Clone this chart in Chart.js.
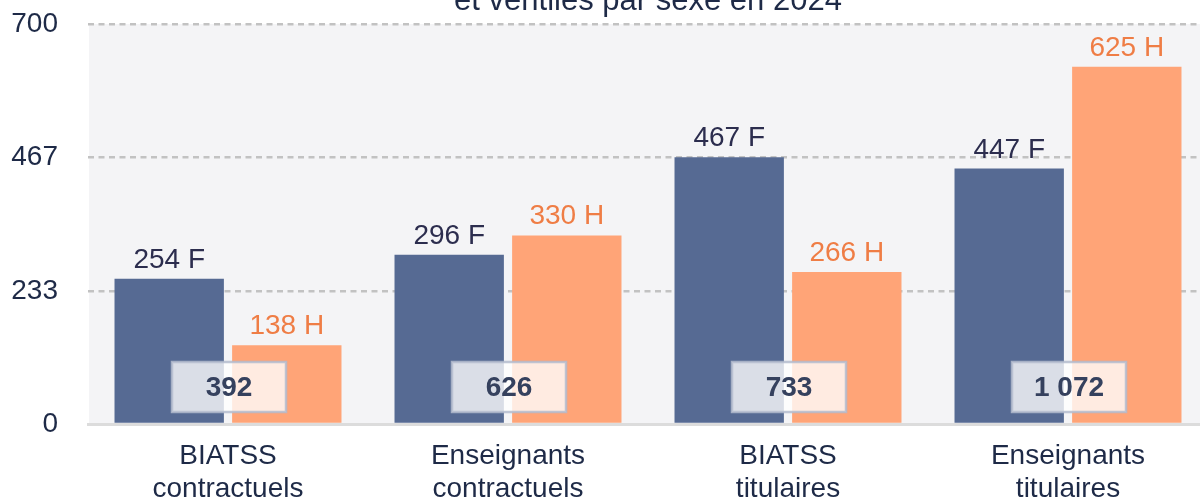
<!DOCTYPE html>
<html><head><meta charset="utf-8">
<script src="https://cdn.jsdelivr.net/npm/chart.js@4"></script>
<style>
html,body{margin:0;padding:0;overflow:hidden;background:#fff;width:1200px;height:500px}
#wrap{position:absolute;left:0;top:0;width:1208px;height:505px}
</style></head>
<body><div id="wrap"><canvas id="c" width="1208" height="505"></canvas></div>
<script>
const categories = [["BIATSS","contractuels"],["Enseignants","contractuels"],["BIATSS","titulaires"],["Enseignants","titulaires"]];
const femmes = [254, 296, 467, 447];
const hommes = [138, 330, 266, 625];
const yTicks = [0, 233, 467, 700];
const suffixes = ["F", "H"];
const titleText = "et ventilés par sexe en 2024";

const FONT = "'Liberation Sans', Arial, Helvetica, sans-serif";
const NAVY = "#1e2a47";
const barColors = ["#566a93", "#ffa477"];
const labelColors = ["#2c2d4e", "#ef7d45"];

function fmt(v){ return String(v).replace(/\B(?=(\d{3})+(?!\d))/g, " "); }

const bgPlugin = {
  id: "bg",
  beforeDraw(chart){
    const {ctx, chartArea:a} = chart;
    ctx.save();
    ctx.fillStyle = "#f4f4f6";
    ctx.fillRect(a.left + 1, a.top, a.right - a.left, a.bottom - a.top);
    // title (its first line lies above the visible frame)
    ctx.fillStyle = NAVY;
    ctx.font = "31px " + FONT;
    ctx.textAlign = "center";
    ctx.textBaseline = "alphabetic";
    ctx.fillText(titleText, (a.left + a.right) / 2, 10);
    ctx.restore();
  }
};

const labelPlugin = {
  id: "labels",
  afterDatasetsDraw(chart){
    const {ctx} = chart;
    ctx.save();
    ctx.font = "28px " + FONT;
    ctx.textAlign = "center";
    ctx.textBaseline = "alphabetic";
    chart.data.datasets.forEach((ds, di) => {
      const meta = chart.getDatasetMeta(di);
      ctx.fillStyle = labelColors[di];
      meta.data.forEach((bar, i) => {
        ctx.fillText(ds.data[i] + " " + suffixes[di], bar.x, bar.y - 11);
      });
    });
    const xs = chart.scales.x, ys = chart.scales.y;
    const base = ys.getPixelForValue(0);
    const w = 114, h = 50;
    categories.forEach((c, i) => {
      const cx = xs.getPixelForValue(i) + 1;
      const cy = base - 37;
      ctx.fillStyle = "rgba(255,255,255,0.78)";
      ctx.fillRect(cx - w/2, cy - h/2, w, h);
      ctx.strokeStyle = "rgba(180,188,206,0.85)";
      ctx.lineWidth = 2.5;
      ctx.strokeRect(cx - w/2, cy - h/2, w, h);
      ctx.fillStyle = "#35415e";
      ctx.font = "bold 28px " + FONT;
      ctx.textBaseline = "middle";
      ctx.fillText(fmt(femmes[i] + hommes[i]), cx, cy + 1);
    });
    ctx.restore();
  }
};

new Chart(document.getElementById("c"), {
  type: "bar",
  data: {
    labels: categories,
    datasets: [
      { label: "Femmes", data: femmes, backgroundColor: barColors[0], categoryPercentage: 0.84, barPercentage: 0.93 },
      { label: "Hommes", data: hommes, backgroundColor: barColors[1], categoryPercentage: 0.84, barPercentage: 0.93 }
    ]
  },
  options: {
    responsive: false,
    animation: false,
    devicePixelRatio: 1,
    layout: { padding: { left: 0, right: 0, top: 24, bottom: 0 } },
    plugins: {
      legend: { display: false },
      tooltip: { enabled: false },
      title: { display: false }
    },
    scales: {
      x: {
        grid: { display: false, drawTicks: false },
        border: { display: true, color: "#dcdcdc", width: 3 },
        ticks: { color: NAVY, font: { family: FONT, size: 28, lineHeight: 1.2 }, padding: 15, maxRotation: 0 },
        afterFit(s){ s.height = 81; s.paddingLeft = 0; s.paddingRight = 0; }
      },
      y: {
        min: 0, max: 700,
        afterBuildTicks(s){ s.ticks = yTicks.map(v => ({ value: v })); },
        grid: {
          drawTicks: false,
          lineWidth: 2.5,
          color: (c) => (c.tick && c.tick.value === 0) ? "rgba(0,0,0,0)" : "#c2c2c2"
        },
        border: { display: false, dash: [6, 4.5] },
        ticks: { color: NAVY, font: { family: FONT, size: 28 }, padding: 30 },
        afterFit(s){ s.width = 88; s.paddingTop = 0; s.paddingBottom = 0; }
      }
    }
  },
  plugins: [bgPlugin, labelPlugin]
});
</script>
</body></html>
